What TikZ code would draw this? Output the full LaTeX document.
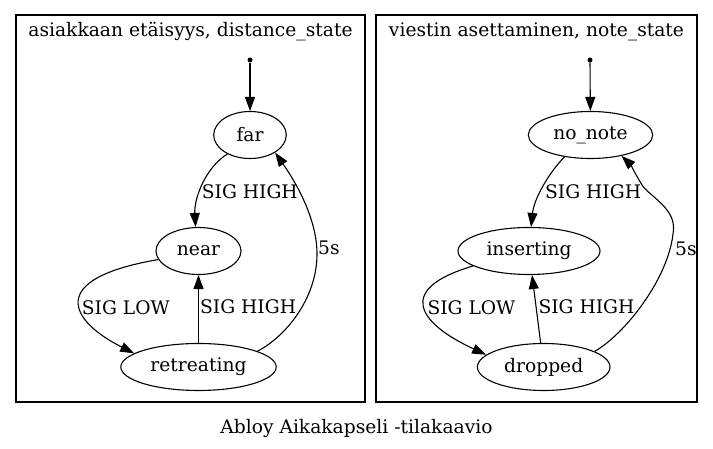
\documentclass[tikz,border=0pt]{standalone}
\usepackage{fontspec}
\setmainfont{DejaVu Serif}
\usetikzlibrary{shapes.geometric,arrows.meta}
\begin{document}
\begin{tikzpicture}
		[x=1pt, y=1pt,
		font=\fontsize{18.67}{22}\selectfont,
		>={Triangle[length=14pt,width=10pt]},
		stnode/.style ={ellipse, draw=black, line width=1.1pt, inner sep=0pt, minimum height=47pt},
		initdot/.style ={circle, fill=black, inner sep=0pt, minimum size=5pt},
		edgeline/.style ={draw, line width=1.1pt},
		lbl/.style ={inner sep=0pt, anchor=base west},
		boxtitle/.style ={inner sep=0pt, anchor=base},
		cluster/.style ={draw=black, line width=1.2pt},
		]

		\useasboundingbox (0,0) rectangle (713,449);
		\draw[cluster] (16,47) rectangle (365,434);
		\draw[cluster] (376,47) rectangle (697,434);

		\draw (190.5,412.3) node[boxtitle] (T1) {asiakkaan etäisyys, distance\_state};
		\draw (536.5,412.3) node[boxtitle] (T2) {viestin asettaminen, note\_state};
		\draw (356.5,15.7) node[boxtitle] (T3) {Abloy Aikakapseli -tilakaavio};

		\draw (250,389) node[initdot] (D0) {};
		\draw (250,314) node[stnode, minimum width=72.6pt] (far) {far};
		\draw (198.5,198) node[stnode, minimum width=85pt] (near) {near};
		\draw (198.5,82) node[stnode, minimum width=155.4pt] (retreating) {retreating};

		\draw (590,389) node[initdot] (N0) {};
		\draw (590.5,314) node[stnode, minimum width=124.4pt] (nonote) {no\_note};
		\draw (529,198) node[stnode, minimum width=142pt] (inserting) {inserting};
		\draw (543.7,82) node[stnode, minimum width=132.6pt] (dropped) {dropped};

		\draw[->, edgeline] (D0) -- (far);
		\draw[->, edgeline] (far.220) .. controls (205,281) and (194,250) .. (near.97);
		\draw[->, edgeline] (near.192) .. controls (45,170) and (70,128) .. (retreating.168);
		\draw[->, edgeline] (retreating) -- (near);
		\draw[->, edgeline] (retreating.15) .. controls (285,112) and (317,150) .. (317,195)
			.. controls (317,235) and (290,275) .. (far.-35);

		\draw[->, edgeline] (N0) -- (nonote);
		\draw[->, edgeline] (nonote.220) .. controls (548,275) and (534,250) .. (inserting.85);
		\draw[->, edgeline] (inserting.195) .. controls (395,160) and (418,126) .. (dropped.168);
		\draw[->, edgeline] (dropped) -- (inserting);
		\draw[->, edgeline] (dropped.17) .. controls (625,115) and (668,170) .. (673,215)
			.. controls (678,240) and (650,252) .. (642,264)
			.. controls (636,274) and (630,285) .. (nonote.-34);

		\draw (201.7,250.5) node[lbl] (L1) {SIG HIGH};
		\draw (81.7,134.8) node[lbl] (L2) {SIG LOW};
		\draw (200,135) node[lbl] (L3) {SIG HIGH};
		\draw (318,194) node[lbl] (L4) {5s};
		\draw (545,250) node[lbl] (L5) {SIG HIGH};
		\draw (427.3,134.8) node[lbl] (L6) {SIG LOW};
		\draw (538.3,135) node[lbl] (L7) {SIG HIGH};
		\draw (675,193.5) node[lbl] (L8) {5s};
\end{tikzpicture}
\end{document}
